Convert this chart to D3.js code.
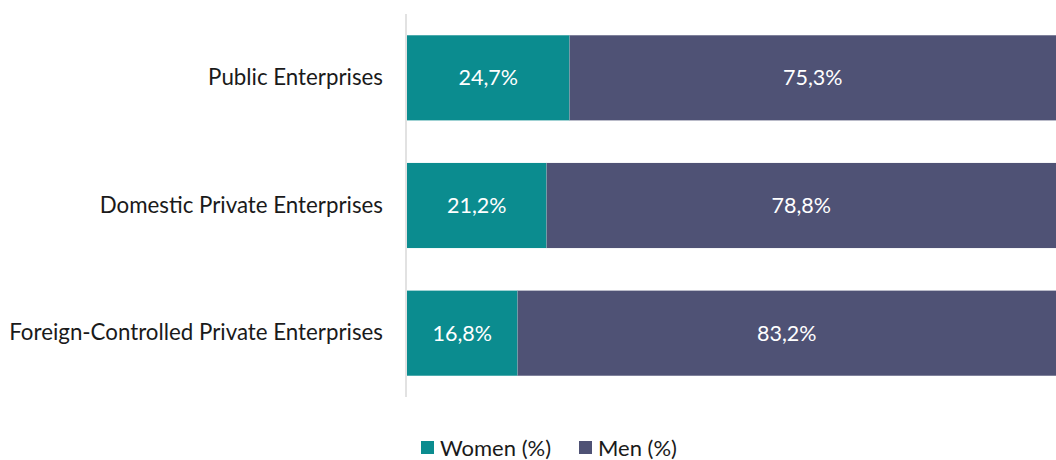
<!DOCTYPE html>
<html>
<head>
<meta charset="utf-8">
<script src="https://cdn.jsdelivr.net/npm/d3@7"></script>
<style>
  html, body { margin: 0; padding: 0; background: #fff; }
  svg { display: block; font-family: "Lato", "Open Sans", sans-serif; }
</style>
</head>
<body>
<svg id="chart" width="1056" height="460"></svg>
<script>
// Share of employment by sex, per enterprise type
const categories = ["Public Enterprises", "Domestic Private Enterprises", "Foreign-Controlled Private Enterprises"];
const women = [24.7, 21.2, 16.8];
const men = [75.3, 78.8, 83.2];
const seriesNames = ["Women (%)", "Men (%)"];
const seriesColors = ["#0b8c8f", "#4f5275"];

const svg = d3.select("#chart");

const x = d3.scaleLinear().domain([0, 100]).range([407, 1065]);
const y = d3.scaleBand().domain(categories).range([14, 397])
  .paddingInner(1 / 3).paddingOuter(1 / 6);

const rows = categories.map((c, i) => ({ category: c, Women: women[i], Men: men[i] }));
const stack = d3.stack().keys(["Women", "Men"]);
const layers = stack(rows);

const fmt = v => v.toFixed(1).replace(".", ",") + "%";

const g = svg.append("g");
layers.forEach((layer, li) => {
  const lg = g.append("g").attr("fill", seriesColors[li]);
  lg.selectAll("rect").data(layer).join("rect")
    .attr("x", d => x(d[0]))
    .attr("y", d => y(d.data.category))
    .attr("width", d => x(d[1]) - x(d[0]))
    .attr("height", y.bandwidth());
  // value labels centred in the visible part of each segment
  g.append("g").selectAll("text").data(layer).join("text")
    .attr("x", d => (x(d[0]) + Math.min(x(d[1]), 1056)) / 2)
    .attr("y", d => y(d.data.category) + y.bandwidth() / 2)
    .attr("dy", "0.35em")
    .attr("text-anchor", "middle")
    .attr("fill", "#ffffff")
    .style("font-size", "21.5px")
    .text(d => fmt(d[1] - d[0]));
});

// thin separators between segments
g.append("g").selectAll("line").data(layers[0]).join("line")
  .attr("x1", d => x(d[1])).attr("x2", d => x(d[1]))
  .attr("y1", d => y(d.data.category))
  .attr("y2", d => y(d.data.category) + y.bandwidth())
  .attr("stroke", "#7fa6b0").attr("stroke-width", 1).attr("opacity", 0.6);

// category axis
const axis = svg.append("g").attr("transform", "translate(406,0)")
  .call(d3.axisLeft(y).tickSize(0).tickPadding(23));
axis.select(".domain").attr("stroke", "#d9d9d9").attr("stroke-width", 1.5)
  .attr("d", `M0,14V397`);
axis.selectAll("text")
  .attr("fill", "#1a1a1a")
  .style("font-size", "22.3px")
  .style("font-family", "Lato, 'Open Sans', sans-serif");

// legend
const legendX = [421, 579];
const legend = svg.append("g");
seriesNames.forEach((name, i) => {
  legend.append("rect")
    .attr("x", legendX[i]).attr("y", 441)
    .attr("width", 13).attr("height", 13)
    .attr("fill", seriesColors[i]);
  legend.append("text")
    .attr("x", legendX[i] + 19).attr("y", 448)
    .attr("dy", "0.35em")
    .attr("fill", "#1a1a1a")
    .style("font-size", "22px")
    .text(name);
});
</script>
</body>
</html>
